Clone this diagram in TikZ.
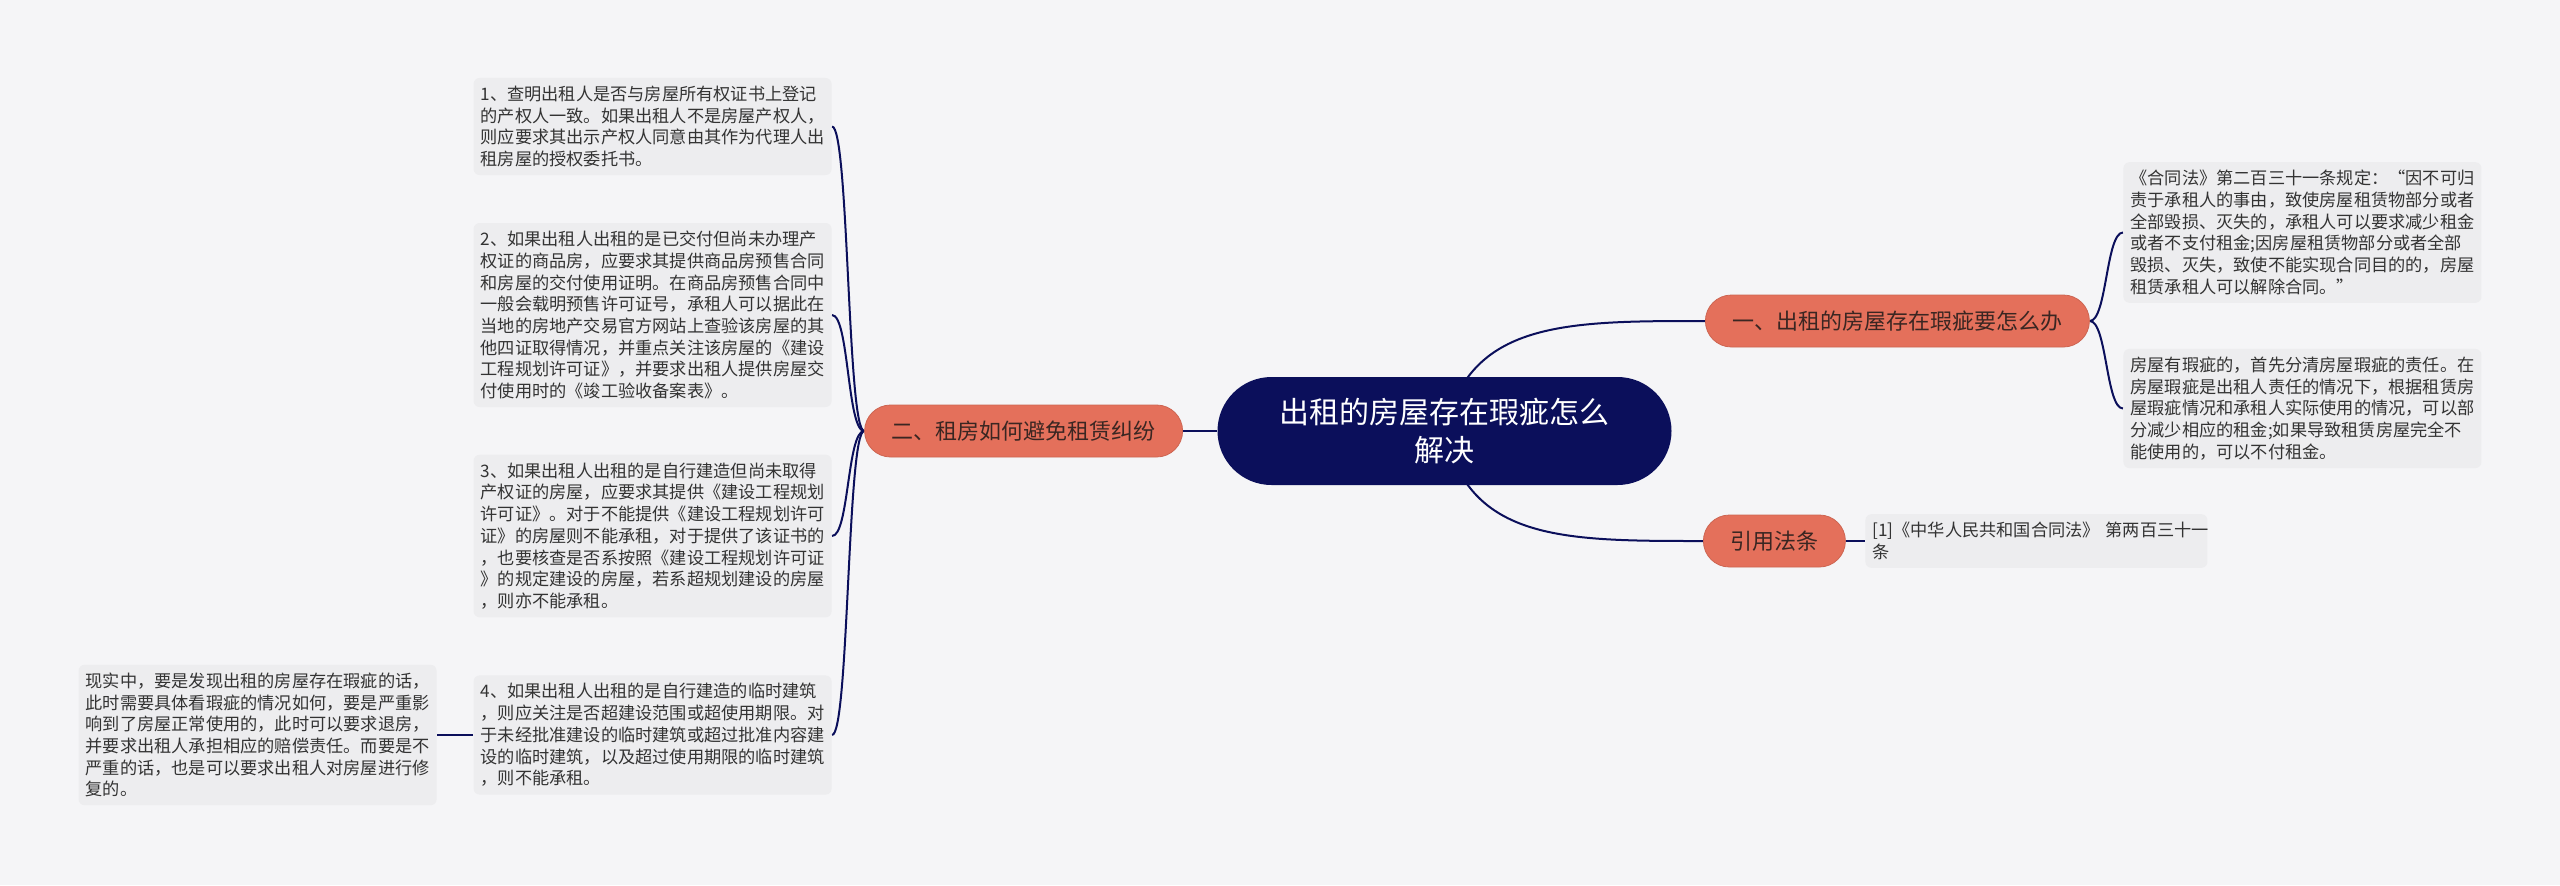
\documentclass[tikz,border=0pt]{standalone}
\usepackage{fontspec}
\setmainfont{Noto Sans CJK SC}
\usetikzlibrary{backgrounds}
\definecolor{bgcol}{HTML}{F5F5F7}
\definecolor{navy}{HTML}{0B0F5B}
\definecolor{salmon}{HTML}{E4705B}
\definecolor{notefill}{HTML}{EDEDEF}
\definecolor{notetext}{HTML}{333333}
\definecolor{topictext}{HTML}{3A2622}
\begin{document}
\begin{tikzpicture}[x=0.5pt, y=-0.5pt,
	rootnode/.style={fill=navy, text=white, rounded corners=27pt, align=center, inner xsep=31pt, minimum height=54pt, font=\fontsize{15pt}{19pt}\selectfont},
	topic/.style={fill=salmon, draw=salmon!90!black, line width=0.4pt, text=topictext, rounded corners=13pt, inner xsep=13.5pt, minimum height=26pt, font=\fontsize{11pt}{13pt}\selectfont},
	note/.style={fill=notefill, text=notetext, rounded corners=3pt, align=left, text width=172pt, inner xsep=3.5pt, inner ysep=4pt, font=\fontsize{8.6pt}{10.85pt}\selectfont},
	link/.style={draw=navy, line width=1pt}]
	\useasboundingbox (0,0) rectangle (2560,885);
	%\draw [help lines] (0,0) grid[step=100] (2560,885);
	\node[rootnode] (root) at (1444.5,431) {出租的房屋存在瑕疵怎么\\解决};
	\node[topic, anchor=east] (avoid) at (1183,431) {二、租房如何避免租赁纠纷};
	\node[topic, anchor=west] (flaw) at (1705,321) {一、出租的房屋存在瑕疵要怎么办};
	\node[topic, anchor=west] (law) at (1703,541) {引用法条};
	\node[note, anchor=east] (check) at (832,126.5) {1、查明出租人是否与房屋所有权证书上登记\\的产权人一致。如果出租人不是房屋产权人，\\则应要求其出示产权人同意由其作为代理人出\\租房屋的授权委托书。};
	\node[note, anchor=east] (presale) at (832,315) {2、如果出租人出租的是已交付但尚未办理产\\权证的商品房，应要求其提供商品房预售合同\\和房屋的交付使用证明。在商品房预售合同中\\一般会载明预售许可证号，承租人可以据此在\\当地的房地产交易官方网站上查验该房屋的其\\他四证取得情况，并重点关注该房屋的《建设\\工程规划许可证》，并要求出租人提供房屋交\\付使用时的《竣工验收备案表》。};
	\node[note, anchor=east] (selfbuilt) at (832,536) {3、如果出租人出租的是自行建造但尚未取得\\产权证的房屋，应要求其提供《建设工程规划\\许可证》。对于不能提供《建设工程规划许可\\证》的房屋则不能承租，对于提供了该证书的\\，也要核查是否系按照《建设工程规划许可证\\》的规定建设的房屋，若系超规划建设的房屋\\，则亦不能承租。};
	\node[note, anchor=east] (temp) at (832,735) {4、如果出租人出租的是自行建造的临时建筑\\，则应关注是否超建设范围或超使用期限。对\\于未经批准建设的临时建筑或超过批准内容建\\设的临时建筑，以及超过使用期限的临时建筑\\，则不能承租。};
	\node[note, anchor=east] (reality) at (437,735) {现实中，要是发现出租的房屋存在瑕疵的话，\\此时需要具体看瑕疵的情况如何，要是严重影\\响到了房屋正常使用的，此时可以要求退房，\\并要求出租人承担相应的赔偿责任。而要是不\\严重的话，也是可以要求出租人对房屋进行修\\复的。};
	\node[note, anchor=west] (article) at (2123,232.5) {《合同法》第二百三十一条规定：“因不可归\\责于承租人的事由，致使房屋租赁物部分或者\\全部毁损、灭失的，承租人可以要求减少租金\\或者不支付租金;因房屋租赁物部分或者全部\\毁损、灭失，致使不能实现合同目的的，房屋\\租赁承租人可以解除合同。”};
	\node[note, anchor=west] (duty) at (2123,408.5) {房屋有瑕疵的，首先分清房屋瑕疵的责任。在\\房屋瑕疵是出租人责任的情况下，根据租赁房\\屋瑕疵情况和承租人实际使用的情况，可以部\\分减少相应的租金;如果导致租赁房屋完全不\\能使用的，可以不付租金。};
	\node[note, anchor=west, text width=164pt] (source) at (1865,541) {[1]《中华人民共和国合同法》~第两百三十一\\条};
	\begin{scope}[on background layer]
		\fill[bgcol] (0,0) rectangle (2560,885);
		\draw[link] (root) -- (avoid);
		\draw[link] (root.center) .. controls +(25,-110) and +(-140,0) .. (flaw.west);
		\draw[link] (root.center) .. controls +(25,110) and +(-140,0) .. (law.west);
		\draw[link] (law) -- (source);
		\draw[link] (flaw.east) .. controls +(17,0) and +(-17,0) .. (article.west);
		\draw[link] (flaw.east) .. controls +(17,0) and +(-17,0) .. (duty.west);
		\draw[link] (avoid.west) .. controls +(-17,0) and +(17,0) .. (check.east);
		\draw[link] (avoid.west) .. controls +(-17,0) and +(17,0) .. (presale.east);
		\draw[link] (avoid.west) .. controls +(-17,0) and +(17,0) .. (selfbuilt.east);
		\draw[link] (avoid.west) .. controls +(-17,0) and +(17,0) .. (temp.east);
		\draw[link] (temp) -- (reality);
	\end{scope}
\end{tikzpicture}
\end{document}
